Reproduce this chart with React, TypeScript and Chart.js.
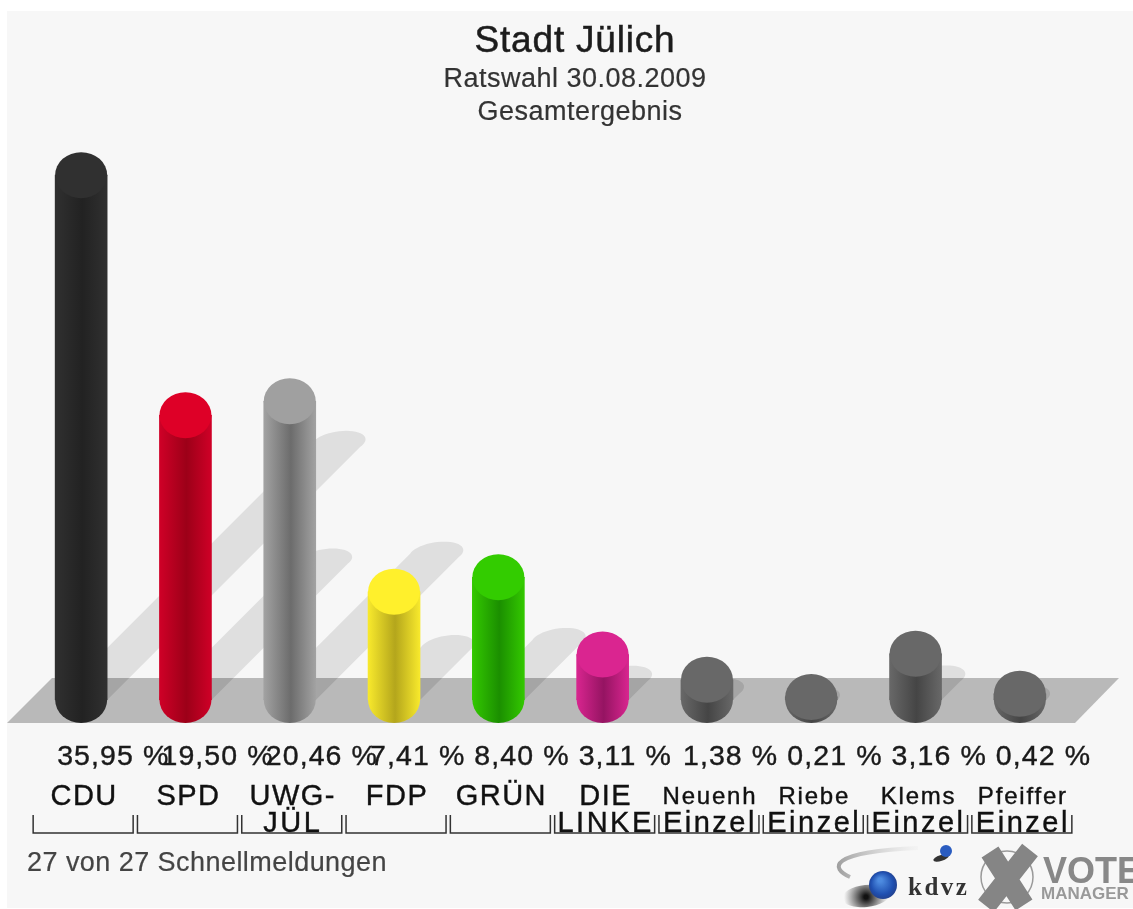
import React, { useEffect, useRef } from "react";
import { Chart, registerables } from "chart.js";

Chart.register(...registerables);

const parties = ["CDU", "SPD", "UWG-", "FDP", "GRÜN", "DIE", "Neuenh", "Riebe", "Klems", "Pfeiffer"];
const secondLines = ["", "", "JÜL", "", "", "LINKE", "Einzel", "Einzel", "Einzel", "Einzel"];
const shares = [35.95, 19.5, 20.46, 7.41, 8.4, 3.11, 1.38, 0.21, 3.16, 0.42];
const shareLabels = ["35,95 %", "19,50 %", "20,46 %", "7,41 %", "8,40 %", "3,11 %", "1,38 %", "0,21 %", "3,16 %", "0,42 %"];
const edgeColors = ["#303030", "#cf0027", "#a2a2a2", "#f8e92c", "#33c800", "#d8258f", "#686868", "#686868", "#686868", "#686868"];
const coreColors = ["#222222", "#9c0018", "#6c6c6c", "#b4a61c", "#1b8f00", "#951462", "#454545", "#454545", "#454545", "#454545"];
const capColors = ["#303030", "#de0027", "#a0a0a0", "#fff02c", "#33cc00", "#da2590", "#686868", "#686868", "#686868", "#686868"];
const titleText = "Stadt Jülich";
const subtitleText = "Ratswahl 30.08.2009";
const scopeText = "Gesamtergebnis";
const footerText = "27 von 27 Schnellmeldungen";

const FONT = '"Liberation Sans", Arial, sans-serif';

function barGradient(ctx: CanvasRenderingContext2D, x: number, w: number, i: number) {
  const g = ctx.createLinearGradient(x - w / 2, 0, x + w / 2, 0);
  g.addColorStop(0, edgeColors[i]);
  g.addColorStop(0.52, coreColors[i]);
  g.addColorStop(1, edgeColors[i]);
  return g;
}

function text(ctx: CanvasRenderingContext2D, s: string, x: number, y: number, size: number, opts: any = {}) {
  ctx.save();
  ctx.font = `${opts.weight || "normal"} ${size}px ${opts.family || FONT}`;
  ctx.fillStyle = opts.color || "#1a1a1a";
  ctx.textAlign = opts.align || "center";
  ctx.textBaseline = "alphabetic";
  (ctx as any).letterSpacing = `${opts.spacing || 0}px`;
  ctx.fillText(s, x, y);
  if (opts.stroke) {
    ctx.strokeStyle = opts.color || "#1a1a1a";
    ctx.lineWidth = opts.stroke;
    ctx.strokeText(s, x, y);
  }
  ctx.restore();
}

function shadowPath(ctx: CanvasRenderingContext2D, meta: any, y0: number) {
  ctx.beginPath();
  meta.data.forEach((bar: any) => {
    const { x, y, width: w } = bar.getProps(["x", "y", "width"]);
    const h = y0 - y;
    const tx = x + 0.49 * h;
    const ty = y0 - 0.49 * h;
    const r = w / 2;
    ctx.moveTo(x - r, y0);
    ctx.lineTo(x + r, y0);
    ctx.lineTo(tx + r, ty);
    ctx.lineTo(tx - r, ty);
    ctx.closePath();
    for (let k = 0; k <= 48; k++) {
      const t = (k / 48) * Math.PI * 2;
      const px = tx + Math.cos(t) * r + Math.sin(t) * 8;
      const py = ty - Math.sin(t) * 12;
      if (k === 0) ctx.moveTo(px, py);
      else ctx.lineTo(px, py);
    }
    ctx.closePath();
  });
}

const scenePlugin = {
  id: "scene",
  beforeDraw(chart: any) {
    const { ctx, width, height, scales } = chart;
    const y0 = scales.y.getPixelForValue(0);
    const meta = chart.getDatasetMeta(0);
    ctx.save();
    ctx.fillStyle = "#ffffff";
    ctx.fillRect(0, 0, width, height);
    ctx.fillStyle = "#f7f7f7";
    ctx.fillRect(7, 11, width - 7, height - 12);
    ctx.restore();
    ctx.save();
    shadowPath(ctx, meta, y0);
    ctx.fillStyle = "#dfdfdf";
    ctx.fill("nonzero");
    ctx.restore();
    ctx.save();
    ctx.beginPath();
    ctx.moveTo(7, y0 + 23);
    ctx.lineTo(52, y0 - 22);
    ctx.lineTo(1119, y0 - 22);
    ctx.lineTo(1075, y0 + 23);
    ctx.closePath();
    ctx.clip();
    ctx.fillStyle = "#b9b9b9";
    ctx.fillRect(0, y0 - 22, width, 45);
    shadowPath(ctx, meta, y0);
    ctx.fillStyle = "#a5a5a5";
    ctx.fill("nonzero");
    ctx.restore();
    meta.data.forEach((bar: any, i: number) => {
      const { x, width: w } = bar.getProps(["x", "width"]);
      ctx.save();
      ctx.fillStyle = barGradient(ctx, x, w, i);
      ctx.beginPath();
      ctx.ellipse(x, y0, w / 2, 23, 0, 0, Math.PI * 2);
      ctx.fill();
      ctx.restore();
    });
  },
  afterDatasetsDraw(chart: any) {
    const { ctx, scales } = chart;
    const meta = chart.getDatasetMeta(0);
    meta.data.forEach((bar: any, i: number) => {
      const { x, y, width: w } = bar.getProps(["x", "y", "width"]);
      ctx.save();
      ctx.fillStyle = capColors[i];
      ctx.beginPath();
      ctx.ellipse(x, y, w / 2, 23, 0, 0, Math.PI * 2);
      ctx.fill();
      ctx.restore();
    });
    text(ctx, titleText, 575, 52, 37, { color: "#1c1c1c", spacing: 0.8, stroke: 0.5 });
    text(ctx, subtitleText, 575, 87, 27, { color: "#333333", spacing: 0.5, stroke: 0.2 });
    text(ctx, scopeText, 580, 120, 27, { color: "#333333", spacing: 0.5, stroke: 0.2 });
    parties.forEach((_, i) => {
      const x = scales.x.getPixelForValue(i);
      text(ctx, shareLabels[i], x - 24, 765, 28.5, { align: "left", spacing: 1.1, color: "#1a1a1a", stroke: 0.4 });
      const small = secondLines[i] === "Einzel";
      text(ctx, parties[i], x + 3, small ? 804 : 805, small ? 24 : 29, { spacing: small ? 1.8 : 1.5, color: "#111111", stroke: 0.4 });
      if (secondLines[i]) text(ctx, secondLines[i], x + 3, 832, 29, { spacing: 2.5, color: "#111111", stroke: 0.4 });
      ctx.save();
      ctx.strokeStyle = "#333333";
      ctx.lineWidth = 1.5;
      ctx.beginPath();
      ctx.moveTo(x - 48, 815);
      ctx.lineTo(x - 48, 833);
      ctx.lineTo(x + 52, 833);
      ctx.lineTo(x + 52, 815);
      ctx.stroke();
      ctx.restore();
    });
    text(ctx, footerText, 27, 871, 27, { align: "left", color: "#444444", spacing: 0.45, stroke: 0.2 });

    ctx.save();
    const sw = ctx.createLinearGradient(838, 0, 925, 0);
    sw.addColorStop(0, "#a0a0a0");
    sw.addColorStop(1, "rgba(210,210,210,0)");
    ctx.strokeStyle = sw;
    ctx.lineWidth = 4;
    ctx.beginPath();
    ctx.moveTo(850, 877);
    ctx.bezierCurveTo(830, 868, 828, 852, 918, 848);
    ctx.stroke();
    const dark = ctx.createRadialGradient(866, 897, 2, 866, 897, 22);
    dark.addColorStop(0, "#111111");
    dark.addColorStop(1, "rgba(60,60,60,0)");
    ctx.fillStyle = dark;
    ctx.beginPath();
    ctx.ellipse(866, 896, 24, 11, -0.1, 0, Math.PI * 2);
    ctx.fill();
    const blue = ctx.createRadialGradient(880, 880, 2, 883, 885, 15);
    blue.addColorStop(0, "#4d8be0");
    blue.addColorStop(0.7, "#1f4fb0");
    blue.addColorStop(1, "#24408a");
    ctx.fillStyle = blue;
    ctx.beginPath();
    ctx.arc(883, 885, 14, 0, Math.PI * 2);
    ctx.fill();
    ctx.fillStyle = "#333333";
    ctx.beginPath();
    ctx.ellipse(941, 858, 8, 3, -0.3, 0, Math.PI * 2);
    ctx.fill();
    ctx.fillStyle = "#2a5cc0";
    ctx.beginPath();
    ctx.arc(946, 851, 6, 0, Math.PI * 2);
    ctx.fill();
    ctx.restore();
    text(ctx, "kdvz", 908, 895, 25, { align: "left", family: '"Liberation Serif", serif', weight: "bold", color: "#333333", spacing: 2.5 });

    ctx.save();
    ctx.strokeStyle = "#9a9a9a";
    ctx.lineWidth = 1.5;
    ctx.beginPath();
    ctx.arc(1007, 877, 26, 0, Math.PI * 2);
    ctx.stroke();
    ctx.strokeStyle = "#858585";
    ctx.lineWidth = 20;
    ctx.beginPath();
    ctx.moveTo(990, 852);
    ctx.lineTo(1024, 905);
    ctx.moveTo(1030, 850);
    ctx.lineTo(986, 906);
    ctx.stroke();
    ctx.restore();
    text(ctx, "VOTE", 1043, 883, 36, { align: "left", weight: "bold", color: "#888888" });
    text(ctx, "MANAGER", 1041, 899, 17, { align: "left", weight: "bold", color: "#999999" });
  },
};

export default function App() {
  const ref = useRef<HTMLCanvasElement>(null);
  useEffect(() => {
    document.body.style.margin = "0";
    const chart = new Chart(ref.current!, {
      type: "bar",
      data: {
        labels: parties,
        datasets: [
          {
            data: shares,
            barThickness: 52,
            backgroundColor: (c: any) => {
              const i = c.dataIndex ?? 0;
              const px = c.chart.scales?.x?.getPixelForValue(i);
              if (!Number.isFinite(px)) return edgeColors[i];
              return barGradient(c.chart.ctx, px, 52, i);
            },
          },
        ],
      },
      options: {
        responsive: false,
        animation: false,
        layout: { padding: { left: 29, right: 61, top: 116, bottom: 209 } },
        plugins: { legend: { display: false }, tooltip: { enabled: false }, title: { display: false } },
        scales: {
          x: { display: false, grid: { display: false } },
          y: { display: false, min: 0, max: 40, grid: { display: false } },
        },
      },
      plugins: [scenePlugin],
    } as any);
    return () => chart.destroy();
  }, []);
  return <canvas ref={ref} width={1133} height={909} style={{ display: "block" }} />;
}
